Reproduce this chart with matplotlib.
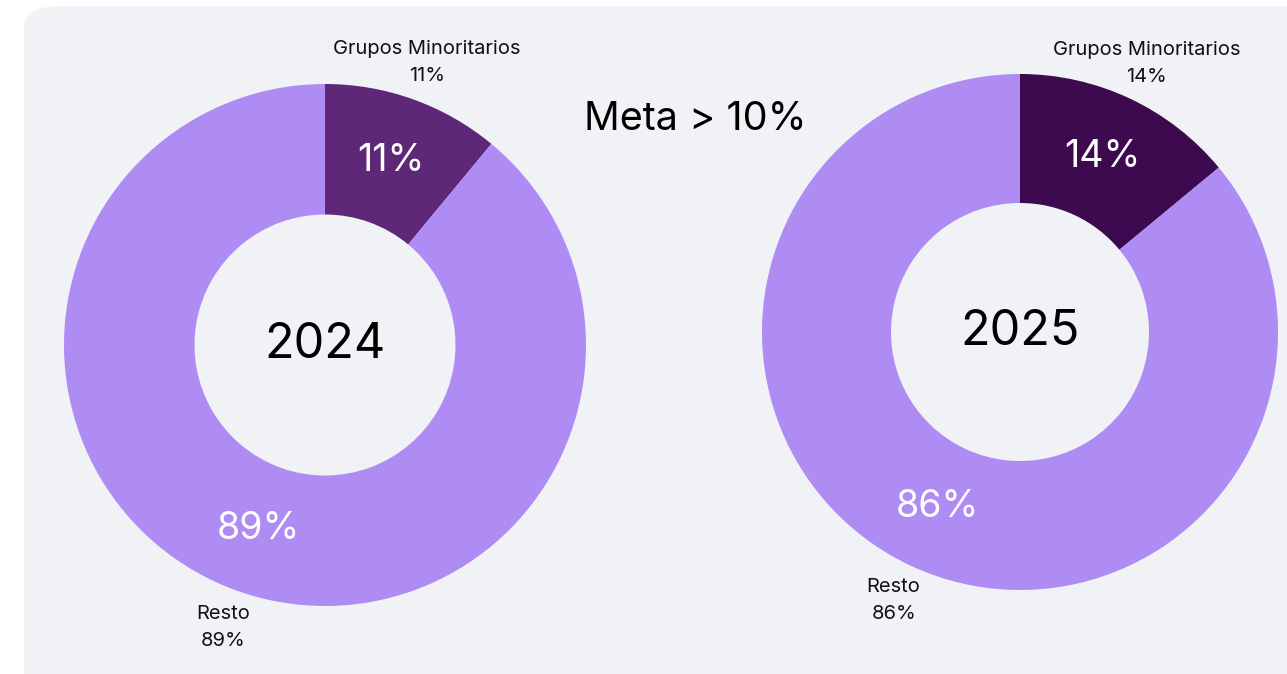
import matplotlib
matplotlib.use('Agg')
import matplotlib.pyplot as plt
from matplotlib.patches import FancyBboxPatch

plt.rcParams['font.family'] = ['Inter', 'DejaVu Sans']

# data
years = ['2024', '2025']
categories = ['Grupos Minoritarios', 'Resto']
shares = {'2024': [11, 89], '2025': [14, 86]}
minority_colors = {'2024': '#5e2778', '2025': '#3d0a4f'}
rest_color = '#ae8cf3'
goal_text = 'Meta > 10%'

W, H = 1287, 674
fig = plt.figure(figsize=(W / 100, H / 100), dpi=100)
fig.patch.set_facecolor('white')

# rounded background panel
panel = FancyBboxPatch((24 / W, -0.1), 1.2, (H - 6) / H + 0.1,
                       boxstyle='round,pad=0,rounding_size=0.03',
                       transform=fig.transFigure, facecolor='#f1f2f6',
                       edgecolor='none', zorder=-5)
fig.patches.append(panel)

# pixel centers / radii of each donut
centers = {'2024': (325, 345, 261), '2025': (1020, 332, 258)}

for yr in years:
    cx, cy, r = centers[yr]
    ax = fig.add_axes([(cx - r) / W, (H - cy - r) / H, 2 * r / W, 2 * r / H])
    ax.set_zorder(2)
    vals = shares[yr]
    labels = [f'{c}\n{v}%' for c, v in zip(categories, vals)]
    wedges, texts, autotexts = ax.pie(
        vals, labels=labels, colors=[minority_colors[yr], rest_color],
        startangle=90, counterclock=False, radius=1,
        autopct='%1.0f%%', pctdistance=0.75, labeldistance=1.15,
        wedgeprops=dict(width=0.5, edgecolor='none'),
        textprops=dict(ha='center', va='center', fontsize=14.5, color='#111111',
                       linespacing=1.7))
    ax.set_xlim(-1, 1)
    ax.set_ylim(-1, 1)
    ax.axis('off')
    for t in autotexts:
        t.set_color('white')
        t.set_fontsize(27)
        t.set_linespacing(1.0)
    ax.text(0, 0, yr, ha='center', va='center', fontsize=35, color='black')

fig.text(695 / W, 1 - 120 / H, goal_text, ha='center', va='center',
         fontsize=28.5, color='black')

fig.savefig('out.png', dpi=100)
